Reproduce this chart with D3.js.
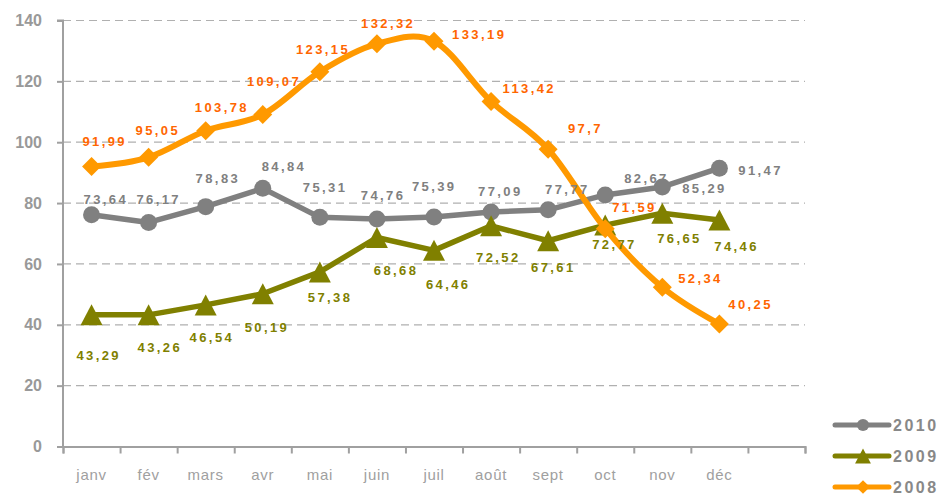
<!DOCTYPE html>
<html>
<head>
<meta charset="utf-8">
<script src="https://cdn.jsdelivr.net/npm/d3@7"></script>
<style>
  body { margin: 0; background: #fff; }
  svg { display: block; font-family: "Liberation Sans", Arial, sans-serif; }
</style>
</head>
<body>
<svg id="chart" width="942" height="498"></svg>
<script>
// Data
const months = ["janv", "fév", "mars", "avr", "mai", "juin", "juil", "août", "sept", "oct", "nov", "déc"];
const yTicks = [0, 20, 40, 60, 80, 100, 120, 140];
const values2010 = [76.17, 73.64, 78.83, 84.84, 75.31, 74.76, 75.39, 77.09, 77.77, 82.67, 85.29, 91.47];
const values2009 = [43.29, 43.26, 46.54, 50.19, 57.38, 68.68, 64.46, 72.52, 67.61, 72.77, 76.65, 74.46];
const values2008 = [91.99, 95.05, 103.78, 109.07, 123.15, 132.32, 133.19, 113.42, 97.7, 71.59, 52.34, 40.25];

// Label nudges (px, relative to each point)
const offs2010 = [[66,-15],[-44,-23],[11,-28],[20,-22],[4,-30],[5,-24],[-1,-31],[8,-20],[18,-20],[40,-16],[41,1],[40,2]];
const offs2009 = [[6,41],[10,33],[5,33],[3,34],[9,26],[18,33],[13,34],[6,32],[4,27],[8,19],[16,25],[16,27]];
const offs2008 = [[12,-25],[8,-27],[15,-23],[10,-33],[2,-22],[10,-20],[44,-7],[37,-13],[36,-21],[28,-21],[37,-9],[30,-20]];

const series = [
  {name: "2010", values: values2010, offs: offs2010, color: "#808080", text: "#808080", marker: "circle", curve: d3.curveLinear, width: 5.5},
  {name: "2009", values: values2009, offs: offs2009, color: "#808000", text: "#808000", marker: "triangle", curve: d3.curveLinear, width: 5.5},
  {name: "2008", values: values2008, offs: offs2008, color: "#FF9900", text: "#FF6600", marker: "diamond", curve: d3.curveCardinal.tension(0), width: 6}
];

const svg = d3.select("#chart");
const axisColor = "#a0a0a0";

// scales: 13 slots, the last one empty
let x = d3.scaleLinear().domain([0, 13]).range([63, 805]);
let y = d3.scaleLinear().domain([0, 140]).range([446.5, 20.5]);
const px = i => x(i + 0.5);

// gridlines
svg.append("g")
  .selectAll("line")
  .data(yTicks.filter(d => d > 0))
  .join("line")
    .attr("x1", x(0)).attr("x2", x(13))
    .attr("y1", d => y(d)).attr("y2", d => y(d))
    .attr("stroke", "#b0b0b0")
    .attr("stroke-width", 1.2)
    .attr("stroke-dasharray", "8,5");

// axes
let yAxis = svg.append("g")
  .attr("transform", `translate(${x(0)},0)`)
  .call(d3.axisLeft(y).tickValues(yTicks).tickSize(6).tickPadding(15));
let xAxis = svg.append("g")
  .attr("transform", `translate(0,${y(0)})`)
  .call(d3.axisBottom(x).tickValues(d3.range(14)).tickSize(7).tickFormat(""));
[yAxis, xAxis].forEach(a => {
  a.select(".domain").attr("stroke", axisColor).attr("stroke-width", 2);
  a.selectAll(".tick line").attr("stroke", axisColor).attr("stroke-width", 2);
});
yAxis.select(".domain").attr("d", `M-6,${y(140)}H0V${y(0)}`);
yAxis.selectAll(".tick text")
  .attr("fill", "#999")
  .style("font-size", "16px")
  .style("font-weight", "bold")
  .style("font-family", "Liberation Sans, Arial, sans-serif");

// month labels
svg.append("g")
  .selectAll("text")
  .data(months)
  .join("text")
    .attr("x", (d, i) => px(i))
    .attr("y", 480)
    .attr("text-anchor", "middle")
    .attr("fill", "#a0a0a0")
    .style("font-size", "15px")
    .style("letter-spacing", "0.7px")
    .text(d => d);

// markers
function marker(sel, type, s) {
  if (type === "circle") {
    sel.append("circle").attr("r", 8.5 * s);
  } else if (type === "triangle") {
    const h = 10.5 * s, w = 11 * s;
    sel.append("path").attr("d", `M0,${-h}L${w},${h}L${-w},${h}Z`);
  } else {
    const r = 9.5 * s;
    sel.append("path").attr("d", `M0,${-r}L${r},0L0,${r}L${-r},0Z`);
  }
}

const fmt = v => String(v).replace(".", ",");

series.forEach(s => {
  const g = svg.append("g");
  const line = d3.line().x((d, i) => px(i)).y(d => y(d)).curve(s.curve);
  g.append("path")
    .attr("d", line(s.values))
    .attr("fill", "none")
    .attr("stroke", s.color)
    .attr("stroke-width", s.width)
    .attr("stroke-linejoin", "round");
  g.selectAll("g.pt")
    .data(s.values)
    .join("g")
      .attr("class", "pt")
      .attr("transform", (d, i) => `translate(${px(i)},${y(d)})`)
      .attr("fill", s.color)
      .each(function() { marker(d3.select(this), s.marker, 1); });
});

// data labels on top
series.forEach(s => {
  svg.append("g")
    .selectAll("text")
    .data(s.values)
    .join("text")
      .attr("x", (d, i) => px(i) + s.offs[i][0] + 1.2)
      .attr("y", (d, i) => y(d) + s.offs[i][1])
      .attr("dy", "0.35em")
      .attr("text-anchor", "middle")
      .attr("fill", s.text)
      .style("font-size", "13px")
      .style("font-weight", "bold")
      .style("letter-spacing", "2.4px")
      .text(d => fmt(d));
});

// legend
const legend = svg.append("g")
  .selectAll("g")
  .data(series)
  .join("g")
    .attr("transform", (d, i) => `translate(835,${425 + i * 31})`);
legend.append("line")
  .attr("x1", 0).attr("x2", 54)
  .attr("stroke", d => d.color)
  .attr("stroke-width", 5)
  .attr("stroke-linecap", "round");
legend.append("g")
  .attr("transform", "translate(28,0)")
  .attr("fill", d => d.color)
  .each(function(d) { marker(d3.select(this), d.marker, 0.72); });
legend.append("text")
  .attr("x", 58)
  .attr("dy", "0.36em")
  .attr("fill", "#888")
  .style("font-size", "16px")
  .style("font-weight", "bold")
  .style("letter-spacing", "2.5px")
  .text(d => d.name);
</script>
</body>
</html>
